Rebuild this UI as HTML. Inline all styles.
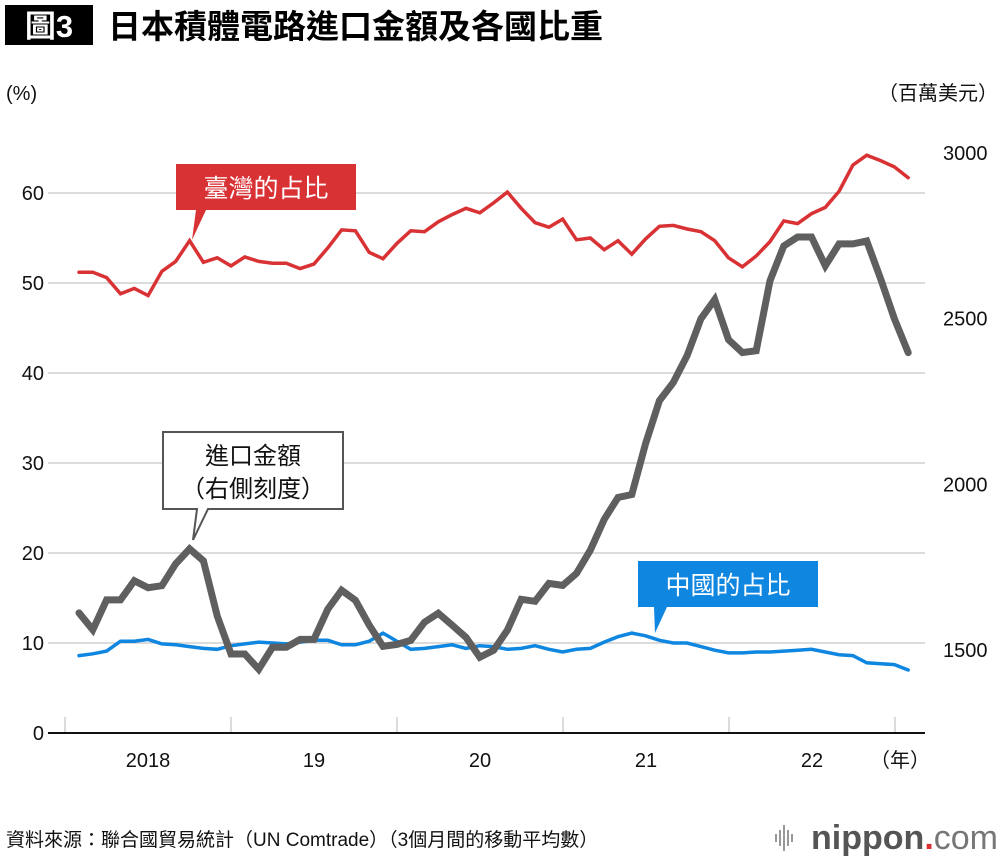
<!DOCTYPE html>
<html><head><meta charset="utf-8">
<style>
body{margin:0;background:#fff;}
svg text{font-family:"Liberation Sans","Noto Sans CJK TC",sans-serif;}
</style></head>
<body>
<svg id="chart" width="1000" height="860" viewBox="0 0 1000 860" xmlns="http://www.w3.org/2000/svg">
<rect x="5" y="5" width="88" height="40" fill="#000"/>
<text x="49" y="37" font-size="31" font-weight="bold" fill="#fff" text-anchor="middle">圖3</text>
<text x="108" y="38" font-size="33" font-weight="bold" fill="#000">日本積體電路進口金額及各國比重</text>
<text x="6" y="100" font-size="20" fill="#111">(%)</text>
<text x="998" y="100" font-size="20" fill="#111" text-anchor="end">（百萬美元）</text>
<g id="grid"></g>
<g id="lines"></g>
<g id="callouts">
 <g>
  <path d="M176,164 H356 V210 H206 L192,240 L196,210 H176 Z" fill="#d93235"/>
  <text x="266" y="197" font-size="25" fill="#fff" text-anchor="middle">臺灣的占比</text>
 </g>
 <g>
  <path d="M163,432 H343 V509 H208 L193,540 L197,509 H163 Z" fill="#fff" stroke="#555" stroke-width="2"/>
  <text x="253" y="464" font-size="24" fill="#111" text-anchor="middle">進口金額</text>
  <text x="253" y="497" font-size="24" fill="#111" text-anchor="middle">（右側刻度）</text>
 </g>
 <g>
  <path d="M638,561 H818 V607 H667 L655,633 L654,607 H638 Z" fill="#0f86e0"/>
  <text x="728" y="594" font-size="25" fill="#fff" text-anchor="middle">中國的占比</text>
 </g>
</g>
<text x="6" y="846" font-size="19" fill="#111">資料來源：聯合國貿易統計（UN Comtrade）（3個月間的移動平均數）</text>
<g>
 <g stroke="#999" stroke-width="2">
  <line x1="776" y1="834" x2="776" y2="842"/><line x1="780" y1="830" x2="780" y2="846"/><line x1="784" y1="825" x2="784" y2="851"/><line x1="788" y1="830" x2="788" y2="846"/><line x1="792" y1="834" x2="792" y2="842"/>
 </g>
 <text x="998" y="849" font-size="34" font-weight="bold" fill="#555" text-anchor="end">nippon<tspan fill="#d93235">.</tspan><tspan font-weight="normal" fill="#777">com</tspan></text>
</g>
</svg>
<script>
const taiwanShare=[51.2,51.2,50.6,48.8,49.4,48.6,51.3,52.4,54.7,52.3,52.8,51.9,52.9,52.4,52.2,52.2,51.6,52.1,53.9,55.9,55.8,53.4,52.7,54.4,55.8,55.7,56.8,57.6,58.3,57.8,58.9,60.1,58.3,56.7,56.2,57.1,54.8,55.0,53.7,54.7,53.2,54.9,56.3,56.4,56.0,55.7,54.7,52.8,51.8,53.0,54.6,56.9,56.6,57.7,58.4,60.2,63.1,64.2,63.6,62.9,61.7];
const chinaShare=[8.6,8.8,9.1,10.2,10.2,10.4,9.9,9.8,9.6,9.4,9.3,9.7,9.9,10.1,10.0,9.9,10.1,10.3,10.3,9.8,9.8,10.2,11.1,10.2,9.3,9.4,9.6,9.8,9.4,9.7,9.6,9.3,9.4,9.7,9.3,9.0,9.3,9.4,10.1,10.7,11.1,10.8,10.3,10.0,10.0,9.6,9.2,8.9,8.9,9.0,9.0,9.1,9.2,9.3,9.0,8.7,8.6,7.8,7.7,7.6,7.0];
const importAmount=[1612,1561,1651,1651,1709,1688,1694,1760,1805,1769,1603,1488,1488,1442,1508,1508,1532,1532,1623,1680,1650,1575,1511,1517,1529,1584,1611,1575,1538,1478,1499,1560,1653,1647,1701,1695,1731,1801,1894,1960,1969,2123,2252,2307,2388,2499,2557,2436,2397,2403,2614,2719,2746,2746,2659,2725,2725,2734,2620,2499,2397];
const leftTicks=[0,10,20,30,40,50,60];
const rightTicks=[1500,2000,2500,3000];
const yearLabels=["2018","19","20","21","22"];
const NS="http://www.w3.org/2000/svg";
const xL=48,xR=925,y0=733;
function xOf(i){return 79+i*13.82;}
function yLeft(v){return y0-v*9;}
function yRight(v){return 650-(v-1500)*0.3315;}
function el(tag,attrs,parent,txt){const e=document.createElementNS(NS,tag);for(const k in attrs)e.setAttribute(k,attrs[k]);if(txt!==undefined)e.textContent=txt;parent.appendChild(e);return e;}
const grid=document.getElementById('grid');
leftTicks.forEach(t=>{
  if(t>0){const g=el('line',{x1:xL,x2:xR,y1:yLeft(t),y2:yLeft(t),stroke:'#cfcfcf','stroke-width':1.5},grid);
  
  }
  const tx=el('text',{x:44,y:yLeft(t)+7,'font-size':20,'text-anchor':'end',fill:'#111'},grid,String(t));
  
  
});
rightTicks.forEach(t=>{
  const tx=el('text',{x:943,y:yRight(t)+7,'font-size':20,fill:'#111'},grid,String(t));
  
  
});
for(let k=0;k<6;k++){
  const x=65+k*166;
  const tk=el('line',{x1:x,x2:x,y1:717,y2:733,stroke:'#cfcfcf','stroke-width':1.5},grid);
  
  
}
yearLabels.forEach((l,k)=>{
  const tx=el('text',{x:148+k*166,y:767,'font-size':20,'text-anchor':'middle',fill:'#111'},grid,l);
  
  
});
const yu=el('text',{x:900,y:767,'font-size':20,'text-anchor':'middle',fill:'#111'},grid,'（年）');


const base=el('line',{x1:xL,x2:xR,y1:y0,y2:y0,stroke:'#111','stroke-width':2},grid);


const lines=document.getElementById('lines');
function series(data,yf,color,w,name){
  const d=data.map((v,i)=>(i?'L':'M')+xOf(i).toFixed(1)+','+yf(v).toFixed(1)).join(' ');
  const p=el('path',{d:d,fill:'none',stroke:color,'stroke-width':w,'stroke-linejoin':'miter','stroke-linecap':'round'},lines);
  
  
}
series(chinaShare,yLeft,'#0f86e0',3.5,'china-share-line');
series(taiwanShare,yLeft,'#d93235',3.5,'taiwan-share-line');
series(importAmount,yRight,'#5f5f5f',7,'import-amount-line');
</script>
</body></html>
